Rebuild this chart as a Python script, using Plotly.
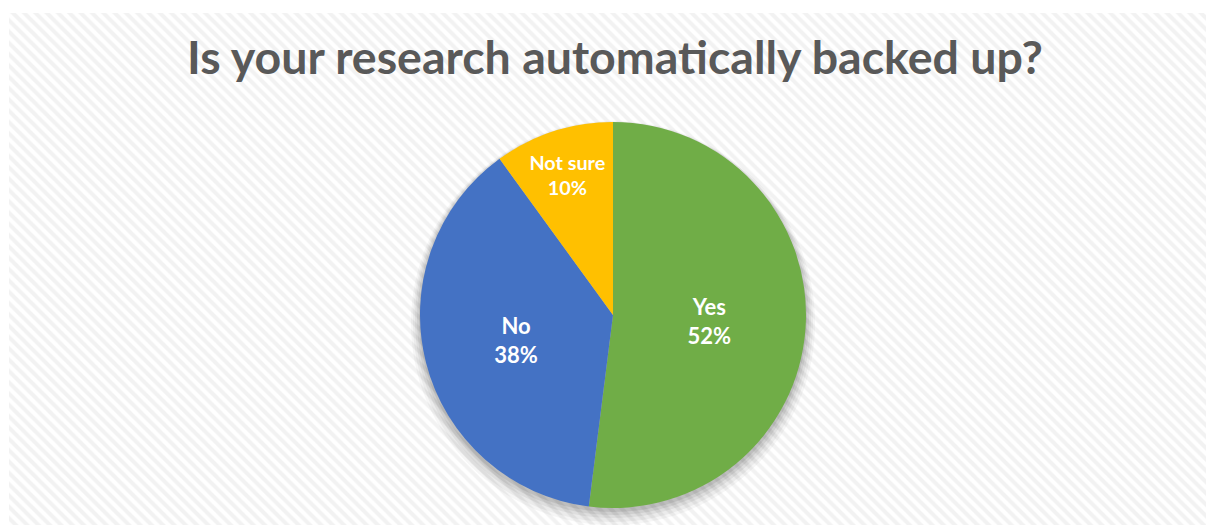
import plotly.graph_objects as go

categories = ["Yes", "No", "Not sure"]
values = [52, 38, 10]
colors = ["#70AD47", "#4472C4", "#FFC000"]
title_text = "Is your research automatically backed up?"

W, H = 1206, 529
cx, cy, r = 613, 315, 193

def dom(cx, cy, r):
    return dict(x=[(cx - r) / W, (cx + r) / W], y=[(H - cy - r) / H, (H - cy + r) / H])

fig = go.Figure()

# hatched background panel
fig.add_trace(go.Scatter(
    x=[9, W, W, 9, 9], y=[13, 13, 525, 525, 13],
    mode="lines", fill="toself", line=dict(width=0),
    fillcolor="white",
    fillpattern=dict(shape="\\", size=8, solidity=0.5, fgcolor="#e6e6e6", bgcolor="white"),
    hoverinfo="skip", showlegend=False,
))

# soft drop shadow
for dy, dr, a in [(8, 9, 0.035), (7, 7, 0.045), (5, 5, 0.055), (4, 3, 0.065), (3, 1, 0.08)]:
    fig.add_trace(go.Pie(
        values=[1], marker=dict(colors=[f"rgba(0,0,0,{a})"], line=dict(width=0)),
        textinfo="none", hoverinfo="skip", showlegend=False, sort=False,
        domain=dom(cx, cy + dy, r + dr),
    ))

fig.add_trace(go.Pie(
    labels=categories, values=values, sort=False, direction="clockwise", rotation=0,
    marker=dict(colors=colors, line=dict(width=0)),
    textinfo="label+percent", texttemplate="%{label}<br>%{percent:.0%}",
    textposition="inside", insidetextorientation="horizontal",
    textfont=dict(family="Lato", size=22, color="white", weight="bold"),
    showlegend=False, domain=dom(cx, cy, r),
))

fig.update_layout(
    width=W, height=H,
    margin=dict(l=0, r=0, t=0, b=0),
    paper_bgcolor="white", plot_bgcolor="rgba(0,0,0,0)",
    xaxis=dict(range=[0, W], visible=False, fixedrange=True),
    yaxis=dict(range=[H, 0], visible=False, fixedrange=True),
    showlegend=False,
    annotations=[dict(
        text=title_text, x=614.5 / W, y=1 - 56 / H, xref="paper", yref="paper",
        xanchor="center", yanchor="middle", showarrow=False,
        font=dict(family="Lato", size=46.5, color="#595959", weight="bold"),
    )],
)

fig.write_html(
    "out.html",
    config={"displayModeBar": False},
    post_script="document.body.style.margin='0';document.body.style.overflow='hidden';",
)
